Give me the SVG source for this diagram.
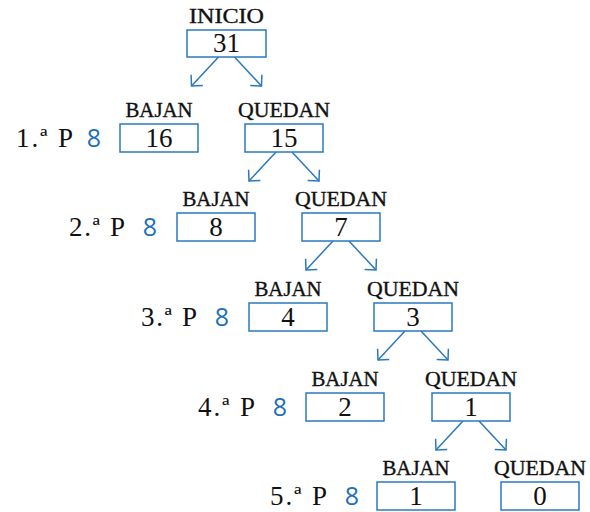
<svg xmlns="http://www.w3.org/2000/svg" width="590" height="512" viewBox="0 0 590 512">
<defs>
<style>
.box{fill:#fff;stroke:#2a78c0;stroke-width:1.5}
.lbl{font-family:"Liberation Serif",serif;font-size:21px;fill:#111;stroke:#111;stroke-width:0.35;text-anchor:middle}
.num{font-family:"Liberation Serif",serif;font-size:27px;fill:#111;text-anchor:middle}
.row{font-family:"Liberation Serif",serif;font-size:27px;fill:#111;text-anchor:end}
.eight{font-family:"Open Sans","Liberation Sans",sans-serif;font-size:25px;fill:#1d6fb8;text-anchor:end}
.arr{stroke:#2a78c0;stroke-width:1.5;fill:none;marker-end:url(#ah)}
</style>
<marker id="ah" markerUnits="userSpaceOnUse" viewBox="-10 -10 12 20" refX="0" refY="0" markerWidth="12" markerHeight="20" orient="auto">
<path d="M-8,-8 L0,0 L-8,8" fill="none" stroke="#2a78c0" stroke-width="1.5"/>
</marker>
</defs>
<rect width="590" height="512" fill="#fff"/>
<g id="connectors">
<line class="arr" x1="218.5" y1="57" x2="191.5" y2="86"/>
<line class="arr" x1="234.5" y1="57" x2="261.5" y2="86"/>
<line class="arr" x1="276" y1="152" x2="249" y2="181"/>
<line class="arr" x1="292" y1="152" x2="319" y2="181"/>
<line class="arr" x1="333" y1="241" x2="306" y2="270"/>
<line class="arr" x1="349" y1="241" x2="376" y2="270"/>
<line class="arr" x1="405" y1="331" x2="378" y2="360"/>
<line class="arr" x1="421" y1="331" x2="448" y2="360"/>
<line class="arr" x1="463" y1="421" x2="436" y2="450"/>
<line class="arr" x1="479" y1="421" x2="506" y2="450"/>
</g>
<g id="inicio">
<text class="lbl" x="226.5" y="23" textLength="75" lengthAdjust="spacingAndGlyphs">INICIO</text>
<rect class="box" x="187" y="30" width="79" height="27"/>
<text class="num" x="226.5" y="52">31</text>
</g>
<g id="row1">
<text class="row" x="73" y="147" textLength="57">1.ª P</text>
<text class="eight" x="101" y="147">8</text>
</g>
<g id="bajan1">
<text class="lbl" x="159" y="117" textLength="67" lengthAdjust="spacingAndGlyphs">BAJAN</text>
<rect class="box" x="120" y="124" width="78" height="28"/>
<text class="num" x="159" y="147">16</text>
</g>
<g id="quedan1">
<text class="lbl" x="284" y="117" textLength="92" lengthAdjust="spacingAndGlyphs">QUEDAN</text>
<rect class="box" x="245" y="124" width="78" height="28"/>
<text class="num" x="284" y="147">15</text>
</g>
<g id="row2">
<text class="row" x="125" y="236" textLength="56">2.ª P</text>
<text class="eight" x="157" y="236">8</text>
</g>
<g id="bajan2">
<text class="lbl" x="216" y="206" textLength="67" lengthAdjust="spacingAndGlyphs">BAJAN</text>
<rect class="box" x="177" y="213" width="78" height="28"/>
<text class="num" x="216" y="236">8</text>
</g>
<g id="quedan2">
<text class="lbl" x="341" y="206" textLength="92" lengthAdjust="spacingAndGlyphs">QUEDAN</text>
<rect class="box" x="302" y="213" width="78" height="28"/>
<text class="num" x="341" y="236">7</text>
</g>
<g id="row3">
<text class="row" x="197" y="326" textLength="56">3.ª P</text>
<text class="eight" x="229" y="326">8</text>
</g>
<g id="bajan3">
<text class="lbl" x="288" y="296" textLength="67" lengthAdjust="spacingAndGlyphs">BAJAN</text>
<rect class="box" x="249" y="303" width="78" height="28"/>
<text class="num" x="288" y="326">4</text>
</g>
<g id="quedan3">
<text class="lbl" x="413" y="296" textLength="92" lengthAdjust="spacingAndGlyphs">QUEDAN</text>
<rect class="box" x="374" y="303" width="78" height="28"/>
<text class="num" x="413" y="326">3</text>
</g>
<g id="row4">
<text class="row" x="255" y="416" textLength="57">4.ª P</text>
<text class="eight" x="287" y="416">8</text>
</g>
<g id="bajan4">
<text class="lbl" x="345" y="386" textLength="67" lengthAdjust="spacingAndGlyphs">BAJAN</text>
<rect class="box" x="306" y="393" width="78" height="28"/>
<text class="num" x="345" y="416">2</text>
</g>
<g id="quedan4">
<text class="lbl" x="471" y="386" textLength="92" lengthAdjust="spacingAndGlyphs">QUEDAN</text>
<rect class="box" x="432" y="393" width="78" height="28"/>
<text class="num" x="471" y="416">1</text>
</g>
<g id="row5">
<text class="row" x="327" y="505" textLength="57">5.ª P</text>
<text class="eight" x="359" y="505">8</text>
</g>
<g id="bajan5">
<text class="lbl" x="416" y="475" textLength="67" lengthAdjust="spacingAndGlyphs">BAJAN</text>
<rect class="box" x="377" y="482" width="78" height="28"/>
<text class="num" x="416" y="505">1</text>
</g>
<g id="quedan5">
<text class="lbl" x="540" y="475" textLength="92" lengthAdjust="spacingAndGlyphs">QUEDAN</text>
<rect class="box" x="501" y="482" width="78" height="28"/>
<text class="num" x="540" y="505">0</text>
</g>
</svg>
